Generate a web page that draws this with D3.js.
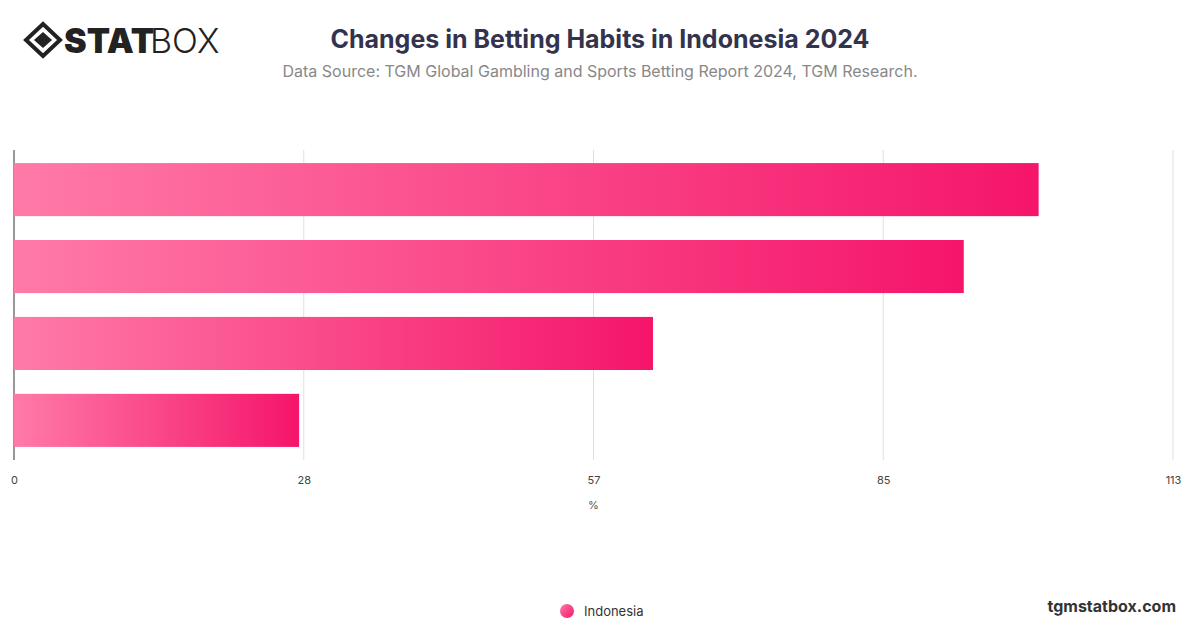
<!DOCTYPE html>
<html>
<head>
<meta charset="utf-8">
<script src="https://cdn.jsdelivr.net/npm/d3@7"></script>
<style>
body { margin: 0; background: #fff; font-family: Inter, "Noto Sans", sans-serif; }
</style>
</head>
<body>
<svg id="chart" width="1200" height="628"></svg>
<script>
// data
var categories = ["A", "B", "C", "D"]
var values = [99.9, 92.6, 62.3, 27.8]
var tickValues = [0, 28.25, 56.5, 84.75, 113]
var tickLabels = ["0", "28", "57", "85", "113"]
var seriesName = "Indonesia"

var svg = d3.select("#chart")
var margin = {left: 14, right: 27, top: 150, bottom: 168}
var width = 1200 - margin.left - margin.right
var height = 628 - margin.top - margin.bottom

var defs = svg.append("defs")
var grad = defs.append("linearGradient").attr("id", "barGrad")
grad.append("stop").attr("offset", "0%").attr("stop-color", "#ff7aa8")
grad.append("stop").attr("offset", "100%").attr("stop-color", "#f5156a")
var lg = defs.append("linearGradient").attr("id", "legGrad").attr("x2", "1").attr("y2", "1")
lg.append("stop").attr("offset", "0%").attr("stop-color", "#ff7aa8")
lg.append("stop").attr("offset", "100%").attr("stop-color", "#f5156a")

// header
var logo = svg.append("g").attr("transform", "translate(26,24)")
logo.append("path").attr("d", "M17,0 L34,16 L17,32 L0,16 Z").attr("fill", "none").attr("stroke", "#222").attr("stroke-width", 4)
logo.append("path").attr("d", "M17,8 L26,16 L17,24 L8,16 Z").attr("fill", "#222")
logo.append("text").attr("x", 38).attr("y", 29).attr("font-size", 34).attr("font-weight", 900)
    .attr("fill", "#222").attr("font-family", "Inter").text("STAT")
logo.append("text").attr("x", 124).attr("y", 29).attr("font-size", 34).attr("font-weight", 300)
    .attr("fill", "#222").attr("font-family", "Inter").text("BOX")

svg.append("text").attr("x", 600).attr("y", 48).attr("text-anchor", "middle")
    .attr("font-size", 25).attr("font-weight", 700).attr("fill", "#33334d")
    .text("Changes in Betting Habits in Indonesia 2024")
svg.append("text").attr("x", 600).attr("y", 77).attr("text-anchor", "middle")
    .attr("font-size", 16).attr("fill", "#888")
    .text("Data Source: TGM Global Gambling and Sports Betting Report 2024, TGM Research.")

var g = svg.append("g").attr("transform", "translate(" + margin.left + "," + margin.top + ")")

var x = d3.scaleLinear().domain([0, 113]).range([0, width])
var y = d3.scaleBand().domain(categories).range([0, height]).paddingInner(0.31).paddingOuter(0.17)

g.selectAll(".grid").data(tickValues.slice(1)).enter().append("line")
    .attr("x1", d => x(d)).attr("x2", d => x(d)).attr("y1", 0).attr("y2", height)
    .attr("stroke", "#e0e0e0")
g.append("line").attr("x1", 0).attr("x2", 0).attr("y1", 0).attr("y2", height).attr("stroke", "#333")

g.selectAll(".bar").data(values).enter().append("rect")
    .attr("x", 0).attr("y", (d, i) => y(categories[i]))
    .attr("width", d => x(d)).attr("height", y.bandwidth())
    .attr("fill", "url(#barGrad)")

var axis = d3.axisBottom(x).tickValues(tickValues).tickFormat((d, i) => tickLabels[i]).tickSize(0).tickPadding(16)
var ax = g.append("g").attr("transform", "translate(0," + height + ")").call(axis)
ax.select(".domain").remove()
ax.selectAll("text").attr("font-size", 11).attr("fill", "#444").attr("font-family", "Inter")

g.append("text").attr("x", x(56.5)).attr("y", height + 49).attr("text-anchor", "middle")
    .attr("font-size", 11).attr("fill", "#555").text("%")

svg.append("circle").attr("cx", 567).attr("cy", 611).attr("r", 7).attr("fill", "url(#legGrad)")
svg.append("text").attr("x", 584).attr("y", 616).attr("font-size", 13).attr("fill", "#333").text(seriesName)

svg.append("text").attr("x", 1176).attr("y", 612).attr("text-anchor", "end")
    .attr("font-size", 16).attr("font-weight", 700).attr("fill", "#333").text("tgmstatbox.com")
</script>
</body>
</html>
